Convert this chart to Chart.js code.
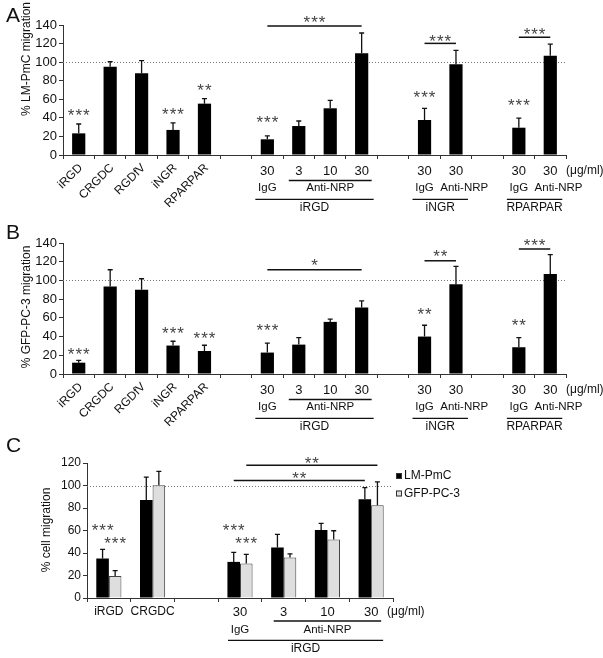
<!DOCTYPE html>
<html>
<head>
<meta charset="utf-8">
<script src="https://cdn.jsdelivr.net/npm/chart.js@4/dist/chart.umd.min.js"></script>
<style>
  body { margin: 0; background: #fff; width: 603px; height: 658px; position: relative; overflow: hidden; }
  canvas { position: absolute; left: 0; }
  .letter { position: absolute; left: 6px; font: 21px 'Liberation Sans', Arial, sans-serif; line-height: 1; color: #111; z-index: 2; }
</style>
</head>
<body>
<div class="letter" style="top:4px">A</div>
<div class="letter" style="top:221px">B</div>
<div class="letter" style="top:434px">C</div>
<canvas id="panelA" width="603" height="219" style="top:0"></canvas>
<canvas id="panelB" width="603" height="215" style="top:219px"></canvas>
<canvas id="panelC" width="603" height="228" style="top:430px"></canvas>
<script>
'use strict';

const family = "'Liberation Sans', Arial, sans-serif";

// y tick values
const migrationTicks = [0, 20, 40, 60, 80, 100, 120, 140];
const cellTicks = [0, 20, 40, 60, 80, 100, 120];

// panels A and B: 16 slots, '' is an empty gap
const slotLabels = ['iRGD', 'CRGDC', 'RGDfV', 'iNGR', 'RPARPAR', '', '30', '3', '10', '30', '', '30', '30', '', '30', '30'];

const lmPmcValues = [23.3, 95, 88, 27, 55.3, null, 16.9, 31.2, 50.3, 109.5, null, 37.7, 97.6, null, 29.4, 107];
const lmPmcErrors = [10.1, 5.5, 13.6, 7.5, 5.4, null, 3.6, 5.4, 8.6, 21.9, null, 12.6, 15.1, null, 10.4, 12.5];
const lmPmcStars = ['***', '', '', '***', '**', '', '***', '', '', '', '', '***', '', '', '***', ''];
const lmPmcStarLevels = [47.4, null, null, 48.4, 74.3, null, 39.5, null, null, null, null, 66.4, null, null, 57.4, null];

const pc3Values = [12.1, 93.6, 90, 30.4, 24.6, null, 22.9, 31.4, 55.7, 71, null, 40, 96, null, 28.6, 106.8];
const pc3Errors = [2.5, 17.8, 11.8, 4.6, 6.1, null, 10, 7.5, 2.9, 7.2, null, 12.1, 19, null, 10.3, 20.7];
const pc3Stars = ['***', '', '', '***', '***', '', '***', '', '', '', '', '**', '', '', '**', ''];
const pc3StarLevels = [25.7, null, null, 47.9, 42.1, null, 50.7, null, null, null, null, 68.6, null, null, 56.1, null];

// second and third label rows under the axis (slot ranges)
const antibodyRow = [
  { from: 6, to: 6, text: 'IgG' },
  { from: 7, to: 9, text: 'Anti-NRP' },
  { from: 11, to: 11, text: 'IgG' },
  { from: 12, to: 12, text: 'Anti-NRP' },
  { from: 14, to: 14, text: 'IgG' },
  { from: 15, to: 15, text: 'Anti-NRP' },
];
const peptideRow = [
  { from: 6, to: 9, text: 'iRGD' },
  { from: 11, to: 12, text: 'iNGR' },
  { from: 14, to: 15, text: 'RPARPAR' },
];

const lmPmcBrackets = [
  { ds: 0, from: 6, to: 9, level: 139, text: '***', textLevel: 147.2 },
  { ds: 0, from: 11, to: 12, level: 120.2, text: '***', textLevel: 126.7 },
  { ds: 0, from: 14, to: 15, level: 126.7, text: '***', textLevel: 134.6 },
];
const pc3Brackets = [
  { ds: 0, from: 6, to: 9, level: 111.4, text: '*', textLevel: 120.4 },
  { ds: 0, from: 11, to: 12, level: 121, text: '**', textLevel: 130 },
  { ds: 0, from: 14, to: 15, level: 133.6, text: '***', textLevel: 141.8 },
];

// panel C: 7 slots, two cell lines
const cSlotLabels = ['iRGD', 'CRGDC', '', '30', '3', '10', '30'];
const cLmValues = [35.1, 87.2, null, 32.1, 44.9, 60.4, 87.8];
const cLmErrors = [8.1, 20.2, null, 8.4, 11.6, 6, 10.4];
const cPcValues = [19.6, 100.3, null, 30.7, 36, 52.1, 82.4];
const cPcErrors = [4.8, 12.2, null, 8, 3.3, 7.7, 20.9];
const cLmStars = ['***', '', '', '***', '', '', ''];
const cPcStars = ['***', '', '', '***', '', '', ''];
const cLmStarLevels = [64, null, null, 64, null, null, null];
const cPcStarLevels = [52, null, null, 52, null, null, null];
const cAntibodyRow = [
  { from: 3, to: 3, text: 'IgG' },
  { from: 4, to: 6, text: 'Anti-NRP' },
];
const cPeptideRow = [{ from: 3, to: 6, text: 'iRGD' }];
const cBrackets = [
  { ds: 1, from: 3, to: 6, level: 118, text: '**', textLevel: 123.5 },
  { ds: 0, from: 3, to: 6, level: 104.5, text: '**', textLevel: 110.4 },
];
const legendNames = ['LM-PmC', 'GFP-PC-3'];

function drawStars(ctx, text, x, y) {
  const fs = 17;
  ctx.save();
  ctx.font = fs + 'px ' + family;
  ctx.fillStyle = '#444';
  ctx.letterSpacing = '1px';
  ctx.textAlign = 'center';
  ctx.textBaseline = 'alphabetic';
  ctx.fillText(text, x + 0.5, y + 0.575 * fs);
  ctx.restore();
}

// dotted 100% line, behind the bars
const refLine = {
  id: 'refLine',
  beforeDatasetsDraw(chart) {
    const { ctx, chartArea: area, scales: { y } } = chart;
    const yy = Math.round(y.getPixelForValue(100)) + 0.5;
    ctx.save();
    ctx.strokeStyle = '#777';
    ctx.lineWidth = 1;
    ctx.setLineDash([1, 2]);
    ctx.beginPath();
    ctx.moveTo(area.left, yy);
    ctx.lineTo(area.right, yy);
    ctx.stroke();
    ctx.restore();
  },
};

const annotate = {
  id: 'annotate',
  afterDatasetsDraw(chart, args, o) {
    const { ctx, chartArea: area, scales: { x, y } } = chart;
    ctx.save();

    // error bars (upper half only)
    o.errors.forEach((errs, d) => {
      const meta = chart.getDatasetMeta(d);
      const values = chart.data.datasets[d].data;
      meta.data.forEach((bar, i) => {
        if (errs[i] == null || values[i] == null) return;
        const y0 = y.getPixelForValue(values[i]);
        const y1 = y.getPixelForValue(values[i] + errs[i]);
        ctx.strokeStyle = '#111';
        ctx.lineWidth = 1.3;
        ctx.beginPath();
        ctx.moveTo(bar.x, y0);
        ctx.lineTo(bar.x, y1);
        ctx.moveTo(bar.x - 2.5, y1);
        ctx.lineTo(bar.x + 2.5, y1);
        ctx.stroke();
      });
    });

    // stars over single bars
    o.stars.forEach((list, d) => {
      const meta = chart.getDatasetMeta(d);
      list.forEach((s, i) => {
        if (!s) return;
        drawStars(ctx, s, meta.data[i].x, y.getPixelForValue(o.starLevels[d][i]));
      });
    });

    // comparison brackets
    o.brackets.forEach((b) => {
      const meta = chart.getDatasetMeta(b.ds);
      const x0 = meta.data[b.from].x;
      const x1 = meta.data[b.to].x;
      const yy = y.getPixelForValue(b.level);
      ctx.strokeStyle = '#111';
      ctx.lineWidth = 1.5;
      ctx.beginPath();
      ctx.moveTo(x0, yy);
      ctx.lineTo(x1, yy);
      ctx.stroke();
      drawStars(ctx, b.text, (x0 + x1) / 2, y.getPixelForValue(b.textLevel));
    });

    // category labels under the axis
    const base = area.bottom;
    const slot = x.getPixelForValue(1) - x.getPixelForValue(0);
    ctx.fillStyle = '#111';
    chart.data.labels.forEach((label, i) => {
      if (!label) return;
      const cx = x.getPixelForValue(i);
      const isNumber = !isNaN(Number(label));
      if (!isNumber && o.rotateNames) {
        ctx.save();
        ctx.translate(cx + 2, base + 11);
        ctx.rotate(-Math.PI / 4);
        ctx.font = '12px ' + family;
        ctx.textAlign = 'right';
        ctx.textBaseline = 'middle';
        ctx.fillText(label, 0, 0);
        ctx.restore();
      } else {
        ctx.font = (isNumber ? 13 : 12) + 'px ' + family;
        ctx.textAlign = 'center';
        ctx.textBaseline = 'middle';
        ctx.fillText(label, cx, base + o.rows[0]);
      }
    });
    ctx.font = '12px ' + family;
    ctx.textAlign = 'left';
    ctx.fillText('(μg/ml)', area.right + o.unitShift, base + o.rows[0]);

    ctx.strokeStyle = '#111';
    ctx.lineWidth = 1.3;
    ctx.textAlign = 'center';
    ctx.font = '11.5px ' + family;
    o.antibodies.forEach((s) => {
      const x0 = x.getPixelForValue(s.from);
      const x1 = x.getPixelForValue(s.to);
      let cx = (x0 + x1) / 2;
      if (s.to > s.from) {
        ctx.beginPath();
        ctx.moveTo(x0 - 10, base + o.rows[1]);
        ctx.lineTo(x1 + 10, base + o.rows[1]);
        ctx.stroke();
      } else {
        // a single-slot label wider than its slot is pushed to the right
        const w = ctx.measureText(s.text).width;
        if (w > slot) cx += (w - slot) / 2;
      }
      ctx.fillText(s.text, cx, base + o.rows[2]);
    });
    ctx.font = '12px ' + family;
    o.peptides.forEach((s) => {
      const x0 = x.getPixelForValue(s.from);
      const x1 = x.getPixelForValue(s.to);
      ctx.beginPath();
      ctx.moveTo(x0 - 12, base + o.rows[3]);
      ctx.lineTo(x1 + 12, base + o.rows[3]);
      ctx.stroke();
      ctx.fillText(s.text, (x0 + x1) / 2, base + o.rows[4]);
    });

    // y axis title (placed by hand, as in the figure)
    ctx.save();
    ctx.translate(o.title.x, o.title.y);
    ctx.rotate(-Math.PI / 2);
    ctx.font = '12px ' + family;
    ctx.textAlign = 'center';
    ctx.textBaseline = 'middle';
    ctx.fillText(o.title.text, 0, 0);
    ctx.restore();

    // legend (panel C only)
    if (o.legend) {
      chart.data.datasets.forEach((ds, d) => {
        const ly = o.legend.y + d * 17.5;
        ctx.fillStyle = ds.backgroundColor;
        ctx.fillRect(o.legend.x, ly - 3, 6, 6);
        ctx.strokeStyle = '#333';
        ctx.lineWidth = 1;
        ctx.strokeRect(o.legend.x + 0.5, ly - 2.5, 5, 5);
        ctx.fillStyle = '#111';
        ctx.font = '12px ' + family;
        ctx.textAlign = 'left';
        ctx.textBaseline = 'middle';
        ctx.fillText(ds.label, o.legend.x + 8, ly);
      });
    }
    ctx.restore();
  },
};

function axes(yTicks, yWidth, xHeight, tickSize) {
  return {
    x: {
      afterFit: (s) => { s.height = xHeight; },
      grid: { display: true, offset: true, drawOnChartArea: false, tickLength: 4, color: '#333' },
      border: { display: true, color: '#333', width: 1 },
      ticks: { display: false },
    },
    y: {
      min: yTicks[0],
      max: yTicks[yTicks.length - 1],
      afterFit: (s) => { s.width = yWidth; },
      // keep every tick, the panels are short
      afterBuildTicks: (s) => { s.ticks = yTicks.map((v) => ({ value: v })); },
      grid: { display: true, drawOnChartArea: false, tickLength: 4, color: '#333' },
      border: { display: true, color: '#333', width: 1 },
      ticks: { autoSkip: false, padding: 2, color: '#111', font: { family: family, size: tickSize } },
    },
  };
}

function singlePanel(id, values, errors, stars, levels, brackets, title, padTop, xHeight) {
  return new Chart(document.getElementById(id), {
    type: 'bar',
    data: {
      labels: slotLabels,
      datasets: [{ data: values, backgroundColor: '#000', categoryPercentage: 1, barPercentage: 0.42 }],
    },
    options: {
      responsive: false,
      animation: false,
      layout: { padding: { top: padTop, right: 37, left: 0, bottom: 0 } },
      scales: axes(migrationTicks, 63, xHeight, 13),
      plugins: {
        legend: { display: false },
        tooltip: { enabled: false },
        annotate: {
          errors: [errors],
          stars: [stars],
          starLevels: [levels],
          brackets: brackets,
          rotateNames: true,
          rows: [16, 25.5, 33, 44.3, 52.5],
          unitShift: 0,
          antibodies: antibodyRow,
          peptides: peptideRow,
          title: title,
        },
      },
    },
    plugins: [refLine, annotate],
  });
}

singlePanel('panelA', lmPmcValues, lmPmcErrors, lmPmcStars, lmPmcStarLevels, lmPmcBrackets,
  { text: '% LM-PmC migration', x: 27, y: 59 }, 25, 64);
singlePanel('panelB', pc3Values, pc3Errors, pc3Stars, pc3StarLevels, pc3Brackets,
  { text: '% GFP-PC-3 migration', x: 27, y: 88 }, 24, 60);

new Chart(document.getElementById('panelC'), {
  type: 'bar',
  data: {
    labels: cSlotLabels,
    datasets: [
      { label: legendNames[0], data: cLmValues, backgroundColor: '#000', borderColor: '#000', borderWidth: 0 },
      { label: legendNames[1], data: cPcValues, backgroundColor: '#dedede', borderColor: '#444', borderWidth: 1 },
    ],
  },
  options: {
    responsive: false,
    animation: false,
    datasets: { bar: { categoryPercentage: 0.575, barPercentage: 1 } },
    layout: { padding: { top: 33, right: 210, left: 0, bottom: 0 } },
    scales: axes(cellTicks, 87, 60, 12),
    plugins: {
      legend: { display: false },
      tooltip: { enabled: false },
      annotate: {
        errors: [cLmErrors, cPcErrors],
        stars: [cLmStars, cPcStars],
        starLevels: [cLmStarLevels, cPcStarLevels],
        brackets: cBrackets,
        rotateNames: false,
        rows: [14, 23, 31.6, 42.3, 50.6],
        unitShift: -6,
        antibodies: cAntibodyRow,
        peptides: cPeptideRow,
        title: { text: '% cell migration', x: 46.7, y: 100 },
        legend: { x: 396, y: 46 },
      },
    },
  },
  plugins: [refLine, annotate],
});
</script>
</body>
</html>
